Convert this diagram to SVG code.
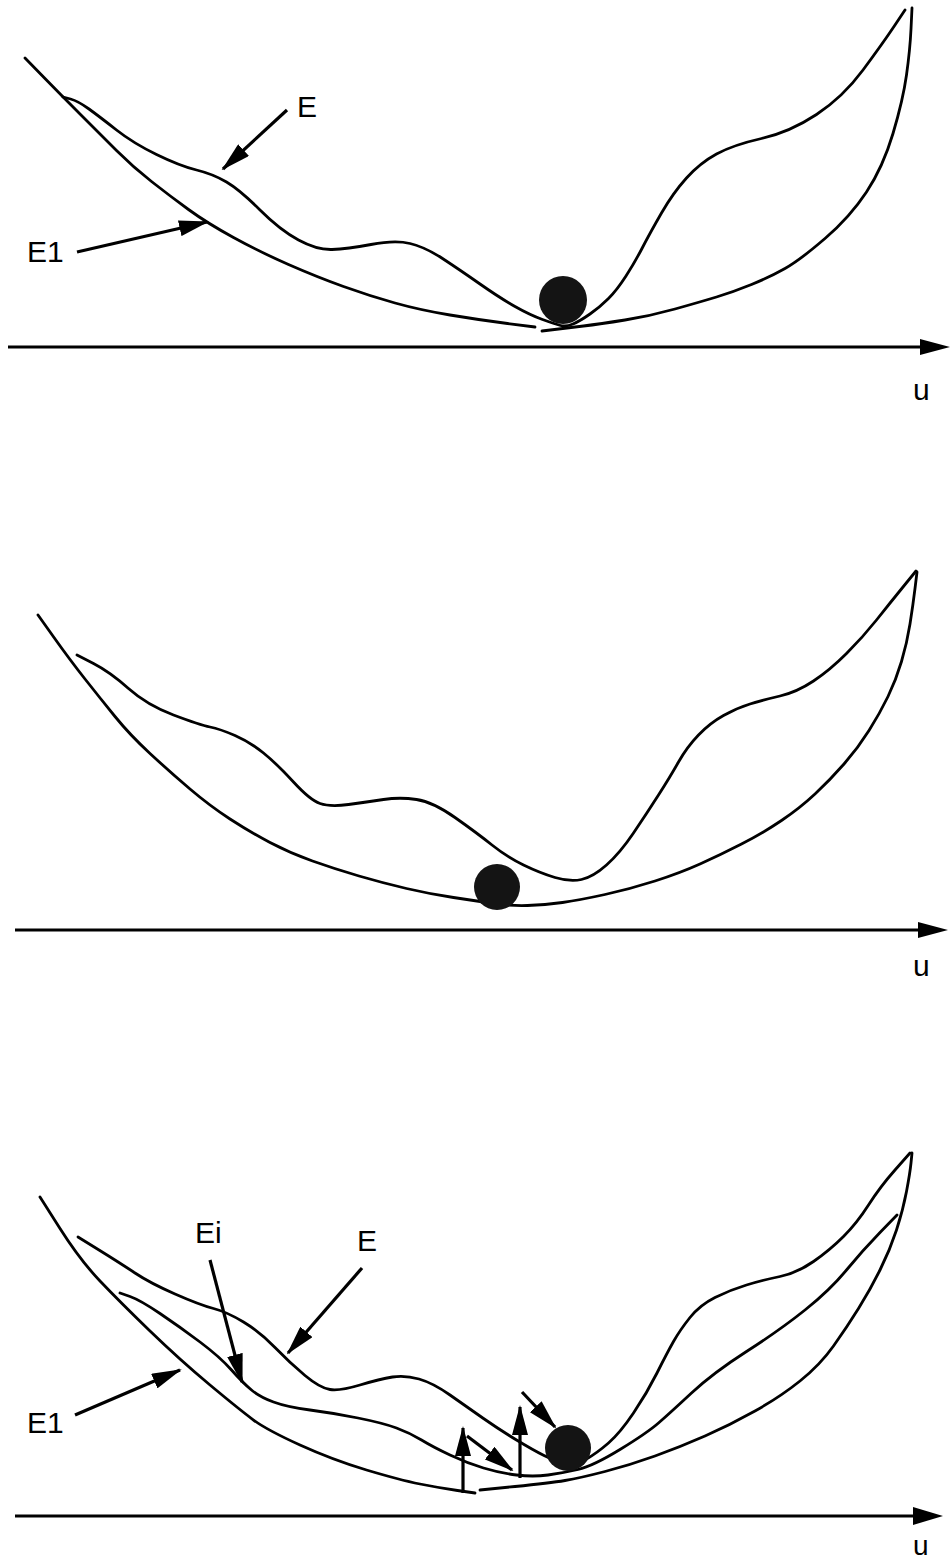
<svg xmlns="http://www.w3.org/2000/svg" width="950" height="1562" viewBox="0 0 950 1562">
<style>
.c{fill:none;stroke:#000;stroke-width:2.8;stroke-linecap:round;stroke-linejoin:round}
.ax{stroke:#000;stroke-width:3;fill:none}
.ar{stroke:#000;stroke-width:3.2;fill:none;marker-end:url(#ah)}
.hd{fill:#000}
.ball{fill:#141414}
text{font-family:"Liberation Sans",Arial,sans-serif;font-size:30px;fill:#000}
</style>
<defs>
<marker id="ah" markerUnits="userSpaceOnUse" markerWidth="30" markerHeight="16" refX="28" refY="8" orient="auto">
<path d="M0,0 L30,8 L0,16 z" fill="#000"/>
</marker>
</defs>
<rect width="950" height="1562" fill="#fff"/>

<g id="panel-top">
<g id="top-E1"><path class="c" d="M25,58 L44,77.5 Q63,97 81.5,115.5 Q100,134 116.5,150.5 Q133,167 151.5,181.5 Q170,196 188.5,209.5 Q207,223 233.5,237.5 Q260,252 288.5,264.5 Q317,277 343.5,286.5 Q370,296 395,303 Q420,310 450,315 Q480,320 507.5,323.5 L535,327"/>
<path class="c" d="M542,331 L554.5,329.5 Q567,328 583.5,326 Q600,324 625,320 Q650,316 675,309 Q700,302 716.5,297 Q733,292 751.5,284.5 Q770,277 785,268.5 Q800,260 825,238.5 Q850,217 866.5,192 Q883,167 893,133.5 Q903,100 906.5,75 Q910,50 911,29 L912,8"/></g>
<g id="top-E"><path class="c" d="M63,97 L70.5,99 Q78,101 89,109 Q100,117 116.5,130 Q133,143 156.5,154.5 Q180,166 196.5,170 Q213,174 226.5,182 Q240,190 260,210 Q280,230 298.5,240 Q317,250 332,249.5 Q347,249 371,244.5 Q395,240 410,243.5 Q425,247 442.5,258.5 Q460,270 480,284 Q500,298 515,306.5 Q530,315 542.5,319.5 Q555,324 560.5,325.5 Q566,327 573,324 Q580,321 590,314 Q600,307 608.5,298.5 Q617,290 626,276 Q635,262 642.5,247.5 Q650,233 661.5,213 Q673,193 686.5,178 Q700,163 716.5,154 Q733,145 761.5,138.5 Q790,132 816.5,114.5 Q843,97 863,70 Q883,43 894,26.5 L905,10"/></g>
<g id="top-ball"><circle class="ball" cx="563" cy="300" r="24"/></g>
<g id="top-axis"><line class="ax" x1="8" y1="347" x2="924" y2="347"/><polygon class="hd" points="920,339 950,347 920,355"/><text x="913" y="400">u</text></g>
<g id="top-labels"><text x="297" y="117">E</text><text x="27" y="262">E1</text></g>
</g>

<g id="panel-middle">
<g id="mid-E1"><path class="c" d="M38,615 L54,637.5 Q70,660 85,679 Q100,698 115,716.5 Q130,735 150,753.5 Q170,772 190,789 Q210,806 230,819 Q250,832 270,842.5 Q290,853 312.5,861 Q335,869 359,876 Q383,883 406.5,888.5 Q430,894 453.5,897.5 Q477,901 493.5,903.5 Q510,906 527.5,905.5 Q545,905 562.5,902.5 Q580,900 605,894.5 Q630,889 655,881 Q680,873 700,864 Q720,855 741.5,844 Q763,833 781.5,820.5 Q800,808 815,794 Q830,780 844,764 Q858,748 869,730.5 Q880,713 888,696.5 Q896,680 901.5,661.5 Q907,643 910,624 Q913,605 915,588.5 L917,572"/></g>
<g id="mid-E"><path class="c" d="M77,655 L93.5,663.5 Q110,672 128.5,688.5 Q147,705 173.5,715 Q200,725 210,727 Q220,729 235,735.5 Q250,742 263.5,753 Q277,764 293.5,782 Q310,800 320,803.5 Q330,807 348.5,804.5 Q367,802 383.5,799.5 Q400,797 416.5,799.5 Q433,802 455,817.5 Q477,833 492,845 Q507,857 523.5,865 Q540,873 555,877.5 Q570,882 581.5,879.5 Q593,877 606.5,865 Q620,853 633.5,833 Q647,813 658.5,795 Q670,777 678.5,762 Q687,747 698.5,735 Q710,723 723.5,715.5 Q737,708 750,704 Q763,700 780,696 Q797,692 813.5,681 Q830,670 846.5,653.5 Q863,637 876.5,620 Q890,603 903,587 L916,571"/></g>
<g id="mid-ball"><circle class="ball" cx="497" cy="887" r="23"/></g>
<g id="mid-axis"><line class="ax" x1="15" y1="930" x2="922" y2="930"/><polygon class="hd" points="918,922 948,930 918,938"/><text x="913" y="976">u</text></g>
</g>

<g id="panel-bottom">
<g id="bot-E1"><path class="c" d="M40,1197 L60,1228.5 Q80,1260 100,1281 Q120,1302 150,1331 Q180,1360 210,1385 Q240,1410 253.5,1420 Q267,1430 300,1445 Q333,1460 366.5,1470 Q400,1480 420,1484 Q440,1488 457.5,1490.5 L475,1493"/>
<path class="c" d="M480,1490 L515,1486.5 Q550,1483 565,1480.5 Q580,1478 605,1471.5 Q630,1465 655,1456 Q680,1447 705,1436 Q730,1425 755,1411 Q780,1397 800,1381 Q820,1365 833.5,1346 Q847,1327 858.5,1308.5 Q870,1290 880,1270 Q890,1250 896.5,1230 Q903,1210 906.5,1191.5 Q910,1173 911,1163 L912,1153"/></g>
<g id="bot-E"><path class="c" d="M78,1237 L99,1250 Q120,1263 135,1273 Q150,1283 175,1294 Q200,1305 213.5,1308.5 Q227,1312 243.5,1322 Q260,1332 275,1347.5 Q290,1363 305,1375.5 Q320,1388 330,1389.5 Q340,1391 360,1385 Q380,1379 392.5,1377 Q405,1375 419,1379 Q433,1383 450,1395 Q467,1407 483.5,1418.5 Q500,1430 516.5,1440 Q533,1450 544,1455.5 Q555,1461 565.5,1463 Q576,1465 586.5,1459 Q597,1453 608.5,1443 Q620,1433 633.5,1413 Q647,1393 657,1373 Q667,1353 673.5,1341.5 Q680,1330 690,1317.5 Q700,1305 715,1297.5 Q730,1290 746.5,1285 Q763,1280 780,1276.5 Q797,1273 813.5,1261.5 Q830,1250 843.5,1236.5 Q857,1223 868.5,1205 Q880,1187 895,1170 L910,1153"/></g>
<g id="bot-Ei"><path class="c" d="M120,1293 L130,1296.5 Q140,1300 160,1313.5 Q180,1327 200,1342 Q220,1357 231.5,1370 Q243,1383 251.5,1390 Q260,1397 273.5,1402 Q287,1407 310,1410 Q333,1413 358,1418 Q383,1423 396.5,1428 Q410,1433 421.5,1440 Q433,1447 450,1455 Q467,1463 483.5,1468 Q500,1473 516.5,1475 Q533,1477 548,1475 Q563,1473 578,1469.5 Q593,1466 620,1449.5 Q647,1433 658.5,1423 Q670,1413 691.5,1393 Q713,1373 746.5,1351.5 Q780,1330 805,1310 Q830,1290 846.5,1270 Q863,1250 880,1232.5 L897,1215"/></g>
<g id="bot-ball"><circle class="ball" cx="568" cy="1448" r="23"/></g>
<g id="bot-axis"><line class="ax" x1="15" y1="1516" x2="916" y2="1516"/><polygon class="hd" points="913,1507 943,1516 913,1525"/><text x="913" y="1555" style="font-size:28px">u</text></g>
<g id="bot-labels"><text x="195" y="1243">Ei</text><text x="357" y="1251">E</text><text x="27" y="1433">E1</text></g>
</g>

<g id="connectors">
<line class="ar" x1="287" y1="110" x2="223" y2="169"/>
<line class="ar" x1="77" y1="252" x2="207" y2="222"/>
<line class="ar" x1="210" y1="1260" x2="242" y2="1382"/>
<line class="ar" x1="362" y1="1268" x2="288" y2="1353"/>
<line class="ar" x1="75" y1="1415" x2="180" y2="1370"/>
<line class="ar" x1="463" y1="1493" x2="463" y2="1428"/>
<line class="ar" x1="467" y1="1436" x2="512" y2="1470"/>
<line class="ar" x1="520" y1="1478" x2="520" y2="1407"/>
<line class="ar" x1="522" y1="1392" x2="555" y2="1427"/>
</g>
</svg>
